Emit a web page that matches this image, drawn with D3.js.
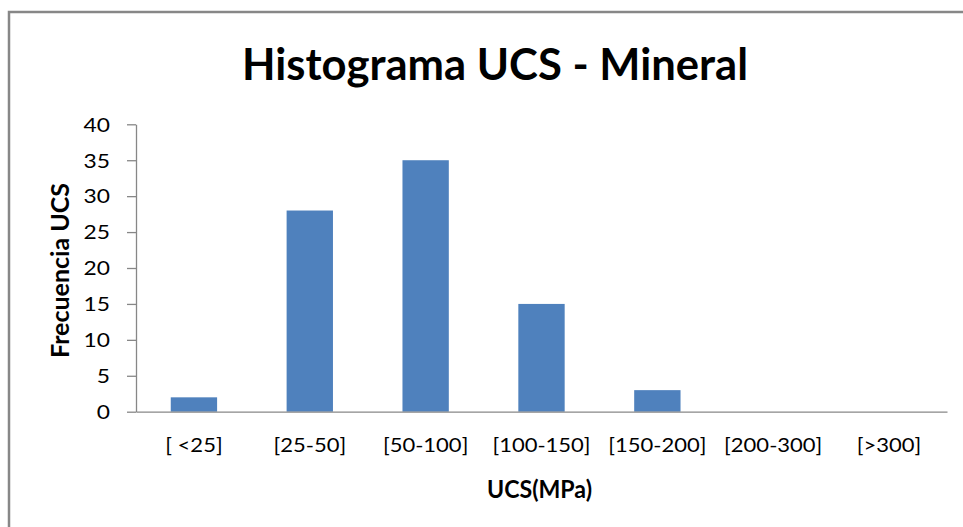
<!DOCTYPE html>
<html>
<head>
<meta charset="utf-8">
<script src="https://cdn.jsdelivr.net/npm/d3@7"></script>
<style>
  html, body { margin: 0; padding: 0; background: #fff; }
  svg { display: block; }
  text { font-family: Lato, "Open Sans", sans-serif; fill: #000; }
</style>
</head>
<body>
<svg id="chart" width="963" height="527"></svg>
<script>
const categories = ["[ <25]", "[25-50]", "[50-100]", "[100-150]", "[150-200]", "[200-300]", "[>300]"];
const values = [2, 28, 35, 15, 3, 0, 0];
const yTicks = [0, 5, 10, 15, 20, 25, 30, 35, 40];
const titleText = "Histograma UCS - Mineral";
const xTitle = "UCS(MPa)";
const yTitle = "Frecuencia UCS";

const svg = d3.select("#chart");

function stretchText(sel, target, factor) {
  sel.each(function() {
    const w = this.getComputedTextLength();
    const t = target != null ? target : w * factor;
    d3.select(this).attr("textLength", t).attr("lengthAdjust", "spacingAndGlyphs");
  });
}

// chart border
svg.append("rect")
  .attr("x", 9).attr("y", 12)
  .attr("width", 1100).attr("height", 700)
  .attr("fill", "none").attr("stroke", "#878787").attr("stroke-width", 2.5);

const plot = { left: 136, right: 947, top: 124.3, bottom: 411.7 };

const x = d3.scaleBand().domain(categories).range([plot.left, plot.right]).paddingInner(0.6).paddingOuter(0.3);
const y = d3.scaleLinear().domain([0, 40]).range([plot.bottom, plot.top]);

// bars
svg.append("g").selectAll("rect").data(values).join("rect")
  .attr("x", (d, i) => x(categories[i]))
  .attr("y", d => y(d))
  .attr("width", x.bandwidth())
  .attr("height", d => y(0) - y(d))
  .attr("fill", "#4F81BD");

// y axis
const yAxis = svg.append("g").attr("transform", `translate(${plot.left},0)`)
  .call(d3.axisLeft(y).tickValues(yTicks).tickSize(9).tickPadding(17).tickSizeOuter(0));
yAxis.select(".domain").attr("stroke", "#878787").attr("stroke-width", 1.3);
yAxis.selectAll(".tick line").attr("stroke", "#878787").attr("stroke-width", 1.3);
yAxis.selectAll(".tick text")
  .style("font-family", "Lato, sans-serif").style("font-size", "20px").attr("fill", "#000")
  .attr("dy", "0.34em");
stretchText(yAxis.selectAll(".tick text"), null, 1.14);

// x axis
const xAxis = svg.append("g").attr("transform", `translate(0,${plot.bottom})`)
  .call(d3.axisBottom(x).tickSize(0).tickPadding(26));
xAxis.select(".domain").attr("stroke", "#878787").attr("stroke-width", 1.3);
xAxis.selectAll(".tick text")
  .style("font-family", "Lato, sans-serif").style("font-size", "20px").attr("fill", "#000")
  .attr("dy", "0.71em");
stretchText(xAxis.selectAll(".tick text"), null, 1.1);

// title
const t = svg.append("text")
  .attr("x", 495).attr("y", 80)
  .attr("text-anchor", "middle")
  .style("font-size", "44px").style("font-weight", "bold")
  .text(titleText);
stretchText(t, 506);

// x title
const xt = svg.append("text")
  .attr("x", 539.5).attr("y", 498)
  .attr("text-anchor", "middle")
  .style("font-size", "24px").style("font-weight", "bold")
  .text(xTitle);
stretchText(xt, 105);

// y title
const yt = svg.append("text")
  .attr("transform", "translate(69,270.5) rotate(-90)")
  .attr("text-anchor", "middle")
  .style("font-size", "24px").style("font-weight", "bold")
  .text(yTitle);
stretchText(yt, 175);
</script>
</body>
</html>
